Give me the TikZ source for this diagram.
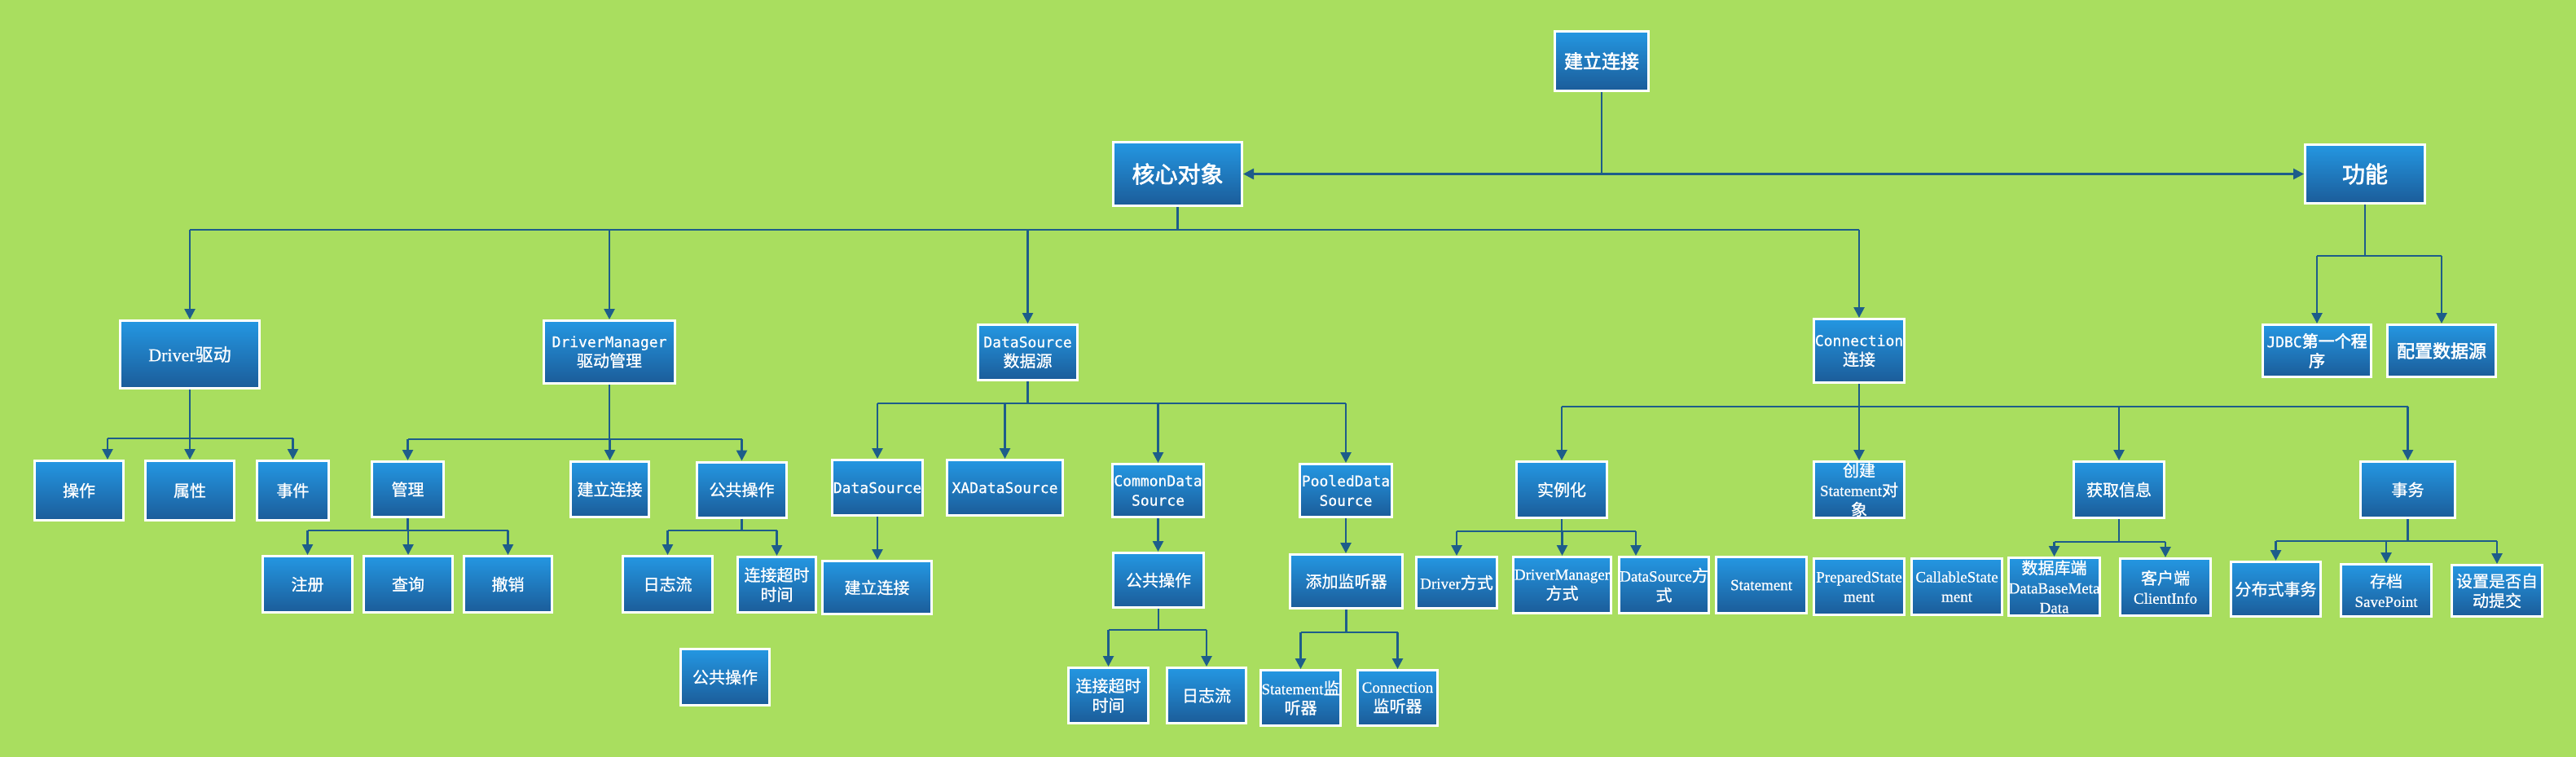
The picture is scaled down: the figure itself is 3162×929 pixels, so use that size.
\documentclass[tikz,border=0pt]{standalone}
\usepackage{fontspec}
\usetikzlibrary{arrows.meta}
\newfontfamily\cjkf{Noto Sans CJK SC}[FakeBold=1]
\newfontfamily\cjkb{Noto Sans CJK SC}[FakeBold=2.5]
\newfontfamily\monof{DejaVu Sans Mono}[FakeBold=0.6]
\newfontfamily\serf{Liberation Serif}[FakeBold=0.6]
\newcommand\mt[1]{{\monof\fontsize{18}{24}\selectfont #1}}
\newcommand\st[1]{{\serf\fontsize{19}{24}\selectfont #1}}
\definecolor{bg}{HTML}{A9DE5F}
\definecolor{btop}{HTML}{2497E2}
\definecolor{bbot}{HTML}{1B5C99}
\definecolor{lnc}{HTML}{1D5D8A}
\tikzset{
  box/.style={draw=white,line width=3pt,top color=btop,bottom color=bbot,text=white,
    align=center,inner sep=0pt,font=\cjkf\fontsize{20}{24}\selectfont},
  big/.style={font=\cjkb\fontsize{28}{32}\selectfont},
  mid/.style={font=\cjkb\fontsize{23}{28}\selectfont},
  ln/.style={draw=lnc,line width=2.6pt},
  arr/.style={ln,-{Triangle[length=13pt,width=13pt]}},
}
\begin{document}
\begin{tikzpicture}[x=1pt,y=-1pt]
\fill[bg] (0,0) rectangle (3162,929);
\useasboundingbox (0,0) rectangle (3162,929);

% top level
\node[box,mid,minimum width=115pt,minimum height=73pt] (j0) at (1966,75) {建立连接};
\node[box,big,minimum width=158pt,minimum height=78pt] (hx) at (1445.5,213.5) {核心对象};
\node[box,big,minimum width=147pt,minimum height=72pt] (gn) at (2903,213.5) {功能};

% level 1
\node[box,font=\cjkf\fontsize{22}{26}\selectfont,minimum width=171pt,minimum height=83pt] (drv) at (233,435) {{\serf Driver}驱动};
\node[box,minimum width=161pt,minimum height=77pt] (dm) at (748,432) {\mt{DriverManager}\\驱动管理};
\node[box,minimum width=122pt,minimum height=68pt] (ds) at (1261.5,432.5) {\mt{DataSource}\\数据源};
\node[box,minimum width=111pt,minimum height=78pt] (conn) at (2282,430.5) {\mt{Connection}\\连接};
\node[box,minimum width=133pt,minimum height=64pt] (jdbc) at (2844,430.5) {\mt{JDBC}{\cjkb 第一个程}\\{\cjkb 序}};
\node[box,font=\cjkb\fontsize{22}{26}\selectfont,minimum width=133pt,minimum height=64pt] (pz) at (2997,430.5) {配置数据源};

% Driver children
\node[box,minimum width=109pt,minimum height=73pt] (cz) at (97,602) {操作};
\node[box,minimum width=109pt,minimum height=73pt] (sx) at (233,602) {属性};
\node[box,minimum width=88pt,minimum height=73pt] (sj) at (359.5,602) {事件};

% DriverManager children
\node[box,minimum width=88pt,minimum height=68pt] (gl) at (500.5,600.5) {管理};
\node[box,minimum width=96pt,minimum height=68pt] (jl1) at (748.5,600.5) {建立连接};
\node[box,minimum width=110pt,minimum height=68pt] (gg1) at (910.5,601) {公共操作};
\node[box,minimum width=110pt,minimum height=69pt] (zc) at (377.5,717) {注册};
\node[box,minimum width=109pt,minimum height=69pt] (cx) at (501,717) {查询};
\node[box,minimum width=108pt,minimum height=69pt] (cxo) at (623.5,717) {撤销};
\node[box,minimum width=110pt,minimum height=69pt] (rz1) at (819.5,717) {日志流};
\node[box,minimum width=96pt,minimum height=68pt] (cs1) at (953.5,717.5) {连接超时\\时间};
\node[box,minimum width=109pt,minimum height=69pt] (gg0) at (890,831) {公共操作};

% DataSource children
\node[box,minimum width=111pt,minimum height=68pt] (dsc) at (1077,598.5) {\mt{DataSource}};
\node[box,minimum width=142pt,minimum height=68pt] (xa) at (1233.5,598.5) {\mt{XADataSource}};
\node[box,minimum width=112pt,minimum height=65pt] (cds) at (1421.5,602) {\mt{CommonData}\\\mt{Source}};
\node[box,minimum width=113pt,minimum height=65pt] (pds) at (1652,602) {\mt{PooledData}\\\mt{Source}};
\node[box,minimum width=134pt,minimum height=65pt] (jl2) at (1076.5,721) {建立连接};
\node[box,minimum width=111pt,minimum height=67pt] (gg2) at (1422,712) {公共操作};
\node[box,minimum width=138pt,minimum height=66pt] (tj) at (1652.5,713.5) {添加监听器};
\node[box,minimum width=98pt,minimum height=68pt] (cs2) at (1360.5,853.5) {连接超时\\时间};
\node[box,minimum width=97pt,minimum height=68pt] (rz2) at (1481,853.5) {日志流};
\node[box,minimum width=98pt,minimum height=68pt] (sl) at (1596.5,856.5) {\st{Statement}监\\听器};
\node[box,minimum width=98pt,minimum height=68pt] (cl) at (1715.5,856.5) {\st{Connection}\\监听器};

% Connection children
\node[box,minimum width=111pt,minimum height=69pt] (slh) at (1917,601) {实例化};
\node[box,minimum width=111pt,minimum height=69pt] (cj) at (2282,601) {创建\\\st{Statement}对\\象};
\node[box,minimum width=111pt,minimum height=69pt] (hq) at (2601,601) {获取信息};
\node[box,minimum width=116pt,minimum height=69pt] (sw) at (2955.5,601) {事务};
\node[box,minimum width=99pt,minimum height=63pt] (dfs) at (1788,715) {\st{Driver}方式};
\node[box,minimum width=120pt,minimum height=69pt] (dmfs) at (1917.5,718) {\st{DriverManager}\\方式};
\node[box,minimum width=110pt,minimum height=69pt] (dsfs) at (2042.5,718) {\st{DataSource}方\\式};
\node[box,minimum width=111pt,minimum height=69pt] (stm) at (2162,718) {\st{Statement}};
\node[box,minimum width=111pt,minimum height=69pt] (ps) at (2282,720) {\st{PreparedState}\\\st{ment}};
\node[box,minimum width=111pt,minimum height=69pt] (cs) at (2402,720) {\st{CallableState}\\\st{ment}};
\node[box,minimum width=110pt,minimum height=71pt] (dbm) at (2521.5,720) {数据库端\\\st{DataBaseMeta}\\\st{Data}};
\node[box,minimum width=111pt,minimum height=70pt] (ci) at (2658,720.5) {客户端\\\st{ClientInfo}};
\node[box,minimum width=110pt,minimum height=67pt] (fbs) at (2793.5,723) {分布式事务};
\node[box,minimum width=111pt,minimum height=64pt] (cd) at (2929,724.5) {存档\\\st{SavePoint}};
\node[box,minimum width=111pt,minimum height=63pt] (sz) at (3065,725) {设置是否自\\动提交};

% bus coordinates
\coordinate (t0) at (j0.south |- hx.east);
\coordinate (mL) at (233,282);   \coordinate (mR) at (2282,282);
\coordinate (fL) at (2844,314);  \coordinate (fR) at (2997,314);
\coordinate (dL) at (132,538);   \coordinate (dR) at (359.5,538);
\coordinate (gL) at (500.5,539); \coordinate (gR) at (910.5,539);
\coordinate (glL) at (377.5,651); \coordinate (glR) at (623.5,651);
\coordinate (ggL) at (819.5,651); \coordinate (ggR) at (953.5,651);
\coordinate (dsL) at (1077,495); \coordinate (dsR) at (1652,495);
\coordinate (cdL) at (1360.5,773); \coordinate (cdR) at (1481,773);
\coordinate (tjL) at (1596.5,776); \coordinate (tjR) at (1715.5,776);
\coordinate (cnL) at (1917,499); \coordinate (cnR) at (2955.5,499);
\coordinate (slL) at (1788,652); \coordinate (slR) at (2008,652);
\coordinate (hqL) at (2521.5,665); \coordinate (hqR) at (2658,665);
\coordinate (swL) at (2793.5,664); \coordinate (swR) at (3065,664);

% top connectors
\draw[ln] (j0.south) -- (t0);
\draw[arr] (t0) -- (hx.east);
\draw[arr] (t0) -- (gn.west);

% core bus
\draw[ln] (hx.south) -- (hx.south |- mL);
\draw[ln] (mL) -- (mR);
\foreach \n in {drv,dm,ds,conn} \draw[arr] (\n.north |- mL) -- (\n.north);

% function bus
\draw[ln] (gn.south) -- (gn.south |- fL);
\draw[ln] (fL) -- (fR);
\foreach \n in {jdbc,pz} \draw[arr] (\n.north |- fL) -- (\n.north);

% Driver
\draw[ln] (drv.south) -- (drv.south |- dL);
\draw[ln] (dL) -- (dR);
\draw[arr] (dL) -- (dL |- cz.north);
\foreach \n in {sx,sj} \draw[arr] (\n.north |- dL) -- (\n.north);

% DriverManager
\draw[ln] (dm.south) -- (dm.south |- gL);
\draw[ln] (gL) -- (gR);
\foreach \n in {gl,jl1,gg1} \draw[arr] (\n.north |- gL) -- (\n.north);
\draw[ln] (gl.south) -- (gl.south |- glL);
\draw[ln] (glL) -- (glR);
\foreach \n in {zc,cx,cxo} \draw[arr] (\n.north |- glL) -- (\n.north);
\draw[ln] (gg1.south) -- (gg1.south |- ggL);
\draw[ln] (ggL) -- (ggR);
\foreach \n in {rz1,cs1} \draw[arr] (\n.north |- ggL) -- (\n.north);

% DataSource
\draw[ln] (ds.south) -- (ds.south |- dsL);
\draw[ln] (dsL) -- (dsR);
\foreach \n in {dsc,xa,cds,pds} \draw[arr] (\n.north |- dsL) -- (\n.north);
\draw[arr] (dsc.south) -- (dsc.south |- jl2.north);
\draw[arr] (cds.south) -- (cds.south |- gg2.north);
\draw[arr] (pds.south) -- (pds.south |- tj.north);
\draw[ln] (gg2.south) -- (gg2.south |- cdL);
\draw[ln] (cdL) -- (cdR);
\foreach \n in {cs2,rz2} \draw[arr] (\n.north |- cdL) -- (\n.north);
\draw[ln] (tj.south) -- (tj.south |- tjL);
\draw[ln] (tjL) -- (tjR);
\foreach \n in {sl,cl} \draw[arr] (\n.north |- tjL) -- (\n.north);

% Connection
\draw[ln] (conn.south) -- (conn.south |- cnL);
\draw[ln] (cnL) -- (cnR);
\foreach \n in {slh,cj,hq,sw} \draw[arr] (\n.north |- cnL) -- (\n.north);
\draw[ln] (slh.south) -- (slh.south |- slL);
\draw[ln] (slL) -- (slR);
\foreach \n in {dfs,dmfs} \draw[arr] (\n.north |- slL) -- (\n.north);
\draw[arr] (slR) -- (slR |- dsfs.north);
\draw[ln] (hq.south) -- (hq.south |- hqL);
\draw[ln] (hqL) -- (hqR);
\foreach \n in {dbm,ci} \draw[arr] (\n.north |- hqL) -- (\n.north);
\draw[ln] (sw.south) -- (sw.south |- swL);
\draw[ln] (swL) -- (swR);
\foreach \n in {fbs,cd,sz} \draw[arr] (\n.north |- swL) -- (\n.north);
\end{tikzpicture}
\end{document}
